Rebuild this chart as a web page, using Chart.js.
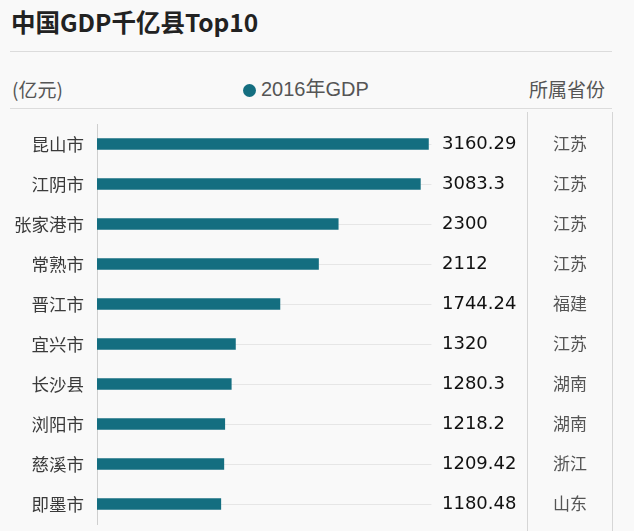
<!DOCTYPE html>
<html>
<head>
<meta charset="utf-8">
<script src="https://cdn.jsdelivr.net/npm/chart.js@4"></script>
<style>
  html, body { margin: 0; padding: 0; background: #f9f9f9; }
  body { width: 634px; height: 531px; position: relative; overflow: hidden; font-family: "Noto Sans CJK SC", sans-serif; }
  .title { position: absolute; left: 11px; top: 4px; font-size: 24.5px; font-weight: bold; color: #222; }
  .rule { position: absolute; left: 10px; width: 602px; height: 1px; background: #dcdcdc; }
  .hdr { position: absolute; top: 75px; font-size: 19px; color: #555; line-height: 28px; }
  .legend { font-family: "Liberation Sans", "Noto Sans CJK SC", sans-serif; font-size: 20px; }
  .dot { display: inline-block; width: 13px; height: 13px; border-radius: 50%; background: #146e80; margin-right: 5px; vertical-align: -1px; }
  #wrap { position: absolute; left: 0; top: 112px; width: 634px; height: 419px; }
</style>
</head>
<body>
<div class="title">中国GDP千亿县Top10</div>
<div class="rule" style="top:51px"></div>
<div class="hdr" style="left:12px">(亿元)</div>
<div class="hdr legend" style="left:243px"><span class="dot"></span>2016年GDP</div>
<div class="hdr" style="left:529px">所属省份</div>
<div class="rule" style="top:108px"></div>
<div id="wrap"><canvas id="gdpChart"></canvas></div>
<script>
const counties = ['昆山市', '江阴市', '张家港市', '常熟市', '晋江市', '宜兴市', '长沙县', '浏阳市', '慈溪市', '即墨市'];
const gdp2016 = [3160.29, 3083.3, 2300, 2112, 1744.24, 1320, 1280.3, 1218.2, 1209.42, 1180.48];
const gdpText = ['3160.29', '3083.3', '2300', '2112', '1744.24', '1320', '1280.3', '1218.2', '1209.42', '1180.48'];
const provinces = ['江苏', '江苏', '江苏', '江苏', '福建', '江苏', '湖南', '湖南', '浙江', '山东'];

// faint track lines, value labels and the province column
const sideColumns = {
    id: 'sideColumns',
    beforeDatasetsDraw(chart) {
        const { ctx, chartArea, scales } = chart;
        const trackEnd = scales.x.getPixelForValue(3160.29) + 3;
        ctx.save();
        ctx.strokeStyle = '#e6e6e6';
        ctx.lineWidth = 1;
        counties.forEach((c, i) => {
            const y = Math.round(scales.y.getPixelForValue(i)) + 0.5;
            ctx.beginPath();
            ctx.moveTo(scales.x.getPixelForValue(0), y);
            ctx.lineTo(trackEnd, y);
            ctx.stroke();
        });
        // column separators
        ctx.strokeStyle = '#d6d6d6';
        [chartArea.right + 0.5, chartArea.right + 85.5].forEach(x => {
            ctx.beginPath();
            ctx.moveTo(x, 0);
            ctx.lineTo(x, chart.height);
            ctx.stroke();
        });
        ctx.restore();
    },
    afterDatasetsDraw(chart) {
        const { ctx, chartArea, scales } = chart;
        ctx.save();
        ctx.textBaseline = 'middle';
        counties.forEach((c, i) => {
            const y = scales.y.getPixelForValue(i);
            ctx.fillStyle = '#111';
            ctx.textAlign = 'left';
            ctx.font = '18px "DejaVu Sans"';
            ctx.fillText(gdpText[i], chartArea.right - 85, y);
            ctx.fillStyle = '#555';
            ctx.textAlign = 'center';
            ctx.font = '17px "Noto Sans CJK SC"';
            ctx.fillText(provinces[i], chartArea.right + 43, y);
        });
        ctx.restore();
    }
};

new Chart(document.getElementById('gdpChart'), {
    type: 'bar',
    data: {
        labels: counties,
        datasets: [{
            label: '2016年GDP',
            data: gdp2016,
            backgroundColor: '#146e80',
            barThickness: 11
        }]
    },
    options: {
        indexAxis: 'y',
        responsive: true,
        maintainAspectRatio: false,
        animation: false,
        layout: { padding: { left: 0, right: 107, top: 12, bottom: 7 } },
        plugins: {
            legend: { display: false },
            tooltip: { enabled: false }
        },
        scales: {
            x: {
                min: 0,
                max: 4100,
                display: false
            },
            y: {
                afterFit(scale) {
                    scale.width = 97;
                    scale.paddingTop = 0;
                    scale.paddingBottom = 0;
                },
                grid: { display: false, drawTicks: false },
                border: { display: true, color: '#cfcfcf', width: 1 },
                ticks: {
                    padding: 13,
                    color: '#3a3a3a',
                    font: { family: 'Noto Sans CJK SC', size: 17.5 }
                }
            }
        }
    },
    plugins: [sideColumns]
});
</script>
</body>
</html>
